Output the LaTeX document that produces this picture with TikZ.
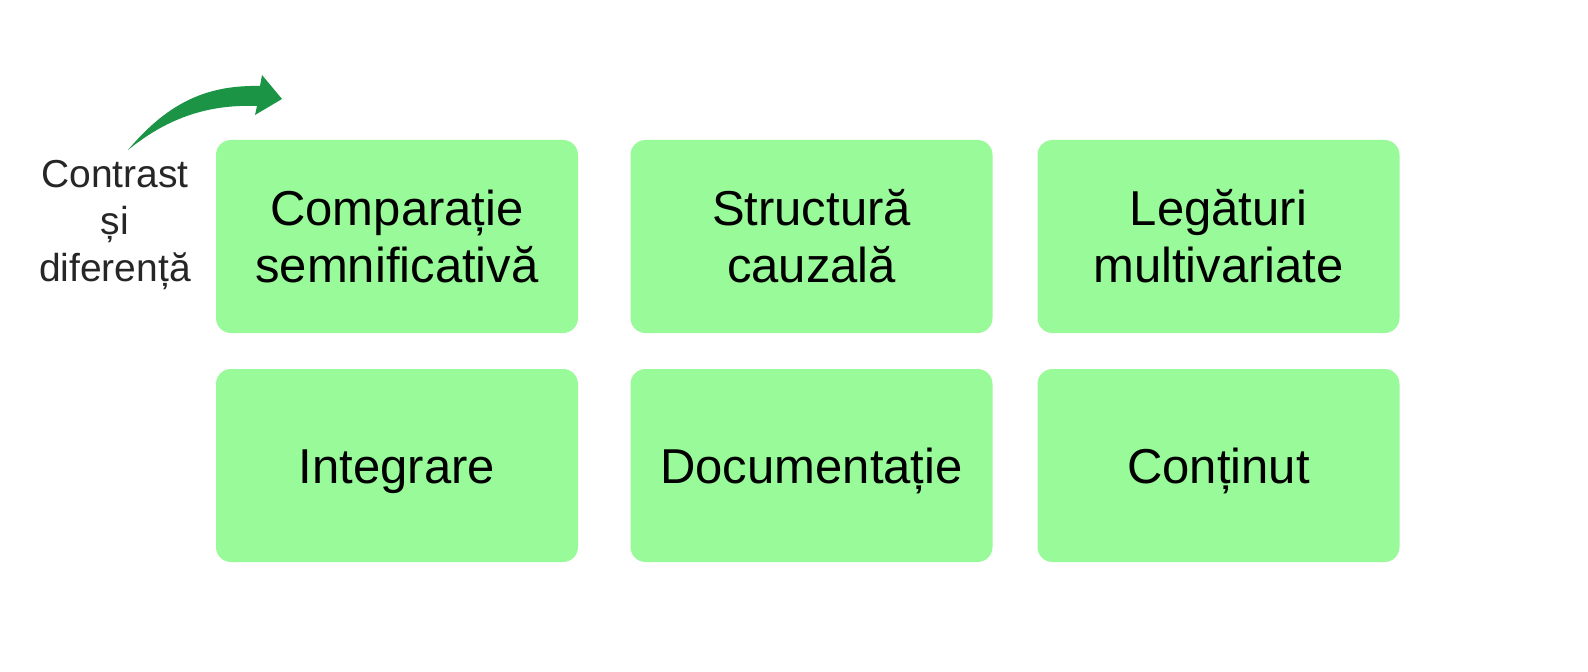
\documentclass[tikz,border=0pt]{standalone}
\usepackage{fontspec}
\setmainfont{Liberation Sans}
\definecolor{boxgreen}{RGB}{153,250,153}
\definecolor{arrowgreen}{RGB}{28,148,70}
\tikzset{
  card/.style={fill=boxgreen, draw=none, rounded corners=15bp, minimum width=362bp, minimum height=193bp, inner sep=0pt},
  cardtext/.style={anchor=base, align=center, inner sep=0pt, font=\fontsize{49bp}{57bp}\selectfont},
  sidetext/.style={anchor=base, align=center, inner sep=0pt, text=black!85, font=\fontsize{39bp}{47bp}\selectfont}
}
\begin{document}
\begin{tikzpicture}[x=1bp,y=-1bp]
\useasboundingbox (0,0) rectangle (1588,672);
\fill[white] (0,0) rectangle (1588,672);
% cards
\node[card] (c1) at (397,236.5) {};
\node[card] (c2) at (811.5,236.5) {};
\node[card] (c3) at (1218.5,236.5) {};
\node[card] (c4) at (397,465.5) {};
\node[card] (c5) at (811.5,465.5) {};
\node[card] (c6) at (1218.5,465.5) {};
% texts (base anchor = baseline of last line)
\node[cardtext] (t1) at (397,282) {Comparație\\semnificativă};
\node[cardtext] (t2) at (811.5,282) {Structură\\cauzală};
\node[cardtext] (t3) at (1218.5,282) {Legături\\multivariate};
\node[cardtext] (t4) at (397,483) {Integrare};
\node[cardtext] (t5) at (811.5,483) {Documentație};
\node[cardtext] (t6) at (1218.5,483) {Conținut};
% side label
\node[sidetext] (side) at (115,281) {Contrast\\și\\diferență};
% curved arrow
\fill[arrowgreen] (128,150) .. controls (170,100) and (210,85) .. (260,86)
  -- (262,75) -- (282,99) -- (255,115) -- (257,106)
  .. controls (205,104) and (165,120) .. (128,150) -- cycle;
\end{tikzpicture}
\end{document}
